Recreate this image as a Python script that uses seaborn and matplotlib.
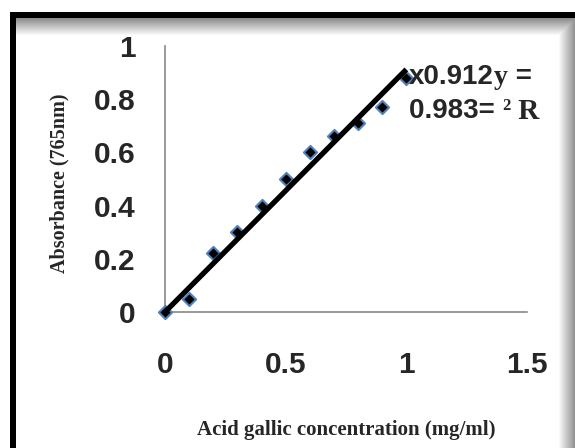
import numpy as np
import pandas as pd
import matplotlib
matplotlib.use("Agg")
import matplotlib.pyplot as plt
import seaborn as sns

# ---- data ----
concentration = [0.0, 0.1, 0.2, 0.3, 0.4, 0.5, 0.6, 0.7, 0.8, 0.9, 1.0]
absorbance = [0.0, 0.05, 0.22, 0.30, 0.40, 0.50, 0.60, 0.66, 0.71, 0.77, 0.88]
slope = 0.912
trend_x = [0.0, 1.0]
x_ticks = [0, 0.5, 1, 1.5]
x_tick_labels = ["0", "0.5", "1", "1.5"]
y_ticks = [0, 0.2, 0.4, 0.6, 0.8, 1.0]
y_tick_labels = ["0", "0.2", "0.4", "0.6", "0.8", "1"]
x_label = "Acid gallic concentration (mg/ml)"
y_label = "Absorbance (765nm)"

df = pd.DataFrame({"x": concentration, "y": absorbance})
trend = pd.DataFrame({"x": trend_x, "y": [slope * v for v in trend_x]})

sns.set_style("white")
plt.rcParams["font.family"] = ["Liberation Sans", "DejaVu Sans"]

W, H = 575, 448
fig = plt.figure(figsize=(W / 100, H / 100), dpi=100)

# ---- background frame with shadow ----
bg = fig.add_axes([0, 0, 1, 1], zorder=-10)
yy, xx = np.mgrid[0:H, 0:W]
top = np.clip((yy - 18) / 17.0, 0, 1)
top_shade = 0.55 + 0.45 * top
right_shade = 1 - 0.45 * np.clip((xx - 558) / 17.0, 0, 1)
shade = np.minimum(np.where(yy >= 18, top_shade, 1), right_shade)
shade[(yy >= 12) & (yy < 18) & (xx >= 10)] = 0
shade[(xx >= 10) & (xx < 16) & (yy >= 12)] = 0
shade[(yy < 12) | (xx < 10)] = 1
bg.imshow(np.dstack([shade] * 3), extent=(0, W, H, 0), aspect="auto", interpolation="nearest")
bg.set_axis_off()

# ---- main axes ----
x0, x1 = 165, 527
y0, y1 = 312, 46
ax = fig.add_axes([x0 / W, 1 - y0 / H, (x1 - x0) / W, (y0 - y1) / H])
ax.patch.set_alpha(0)

sns.scatterplot(data=df, x="x", y="y", ax=ax, marker="D", s=45,
                color="black", edgecolor="#4F81BD", linewidth=1.5,
                clip_on=False, zorder=3, legend=False)
sns.lineplot(data=trend, x="x", y="y", ax=ax, color="black", linewidth=3.8,
             zorder=4, legend=False, solid_capstyle="butt")

ax.set_xlim(0, 1.5)
ax.set_ylim(0, 1.0)
ax.set_xticks(x_ticks)
ax.set_xticklabels(x_tick_labels)
ax.set_yticks(y_ticks)
ax.set_yticklabels(y_tick_labels)
for lab in ax.get_xticklabels() + ax.get_yticklabels():
    lab.set_fontweight("bold")
    lab.set_fontsize(21.5)
ax.tick_params(axis="x", direction="out", length=7, width=1.2, color="#888888", pad=21)
ax.tick_params(axis="y", direction="out", length=7, width=1.2, color="#888888", pad=14)
for s in ["top", "right"]:
    ax.spines[s].set_visible(False)
for s in ["left", "bottom"]:
    ax.spines[s].set_color("#888888")
    ax.spines[s].set_linewidth(1.2)

ax.set_xlabel("")
ax.set_ylabel("")
serif = ["Liberation Serif", "DejaVu Serif"]
sans = ["Liberation Sans", "DejaVu Sans"]
fig.text(346 / W, 1 - 430 / H, x_label, ha="center", va="center",
         fontsize=15, fontweight="bold", family=serif)
fig.text(59 / W, 1 - 183 / H, y_label, ha="center", va="center", rotation=90,
         fontsize=14.5, fontweight="bold", family=serif)

# ---- equation annotation, chaining mixed fonts ----
fig.canvas.draw()
renderer = fig.canvas.get_renderer()

def chain(pieces, x_px, y_px):
    x = x_px
    for txt, fam, size, dy in pieces:
        t = fig.text(x / W, 1 - (y_px + dy) / H, txt, ha="left", va="center",
                     fontsize=size, fontweight="bold", family=fam)
        bb = t.get_window_extent(renderer=renderer)
        x += bb.width

chain([("x0.912", sans, 20, 0), ("y", serif, 20, 0), (" =", sans, 20, 0)], 409, 77)
chain([("0.983= ", sans, 20, 0), ("2", serif, 12, -5), (" R", serif, 21, 0)], 409, 111)

fig.savefig("out.png", dpi=100)
